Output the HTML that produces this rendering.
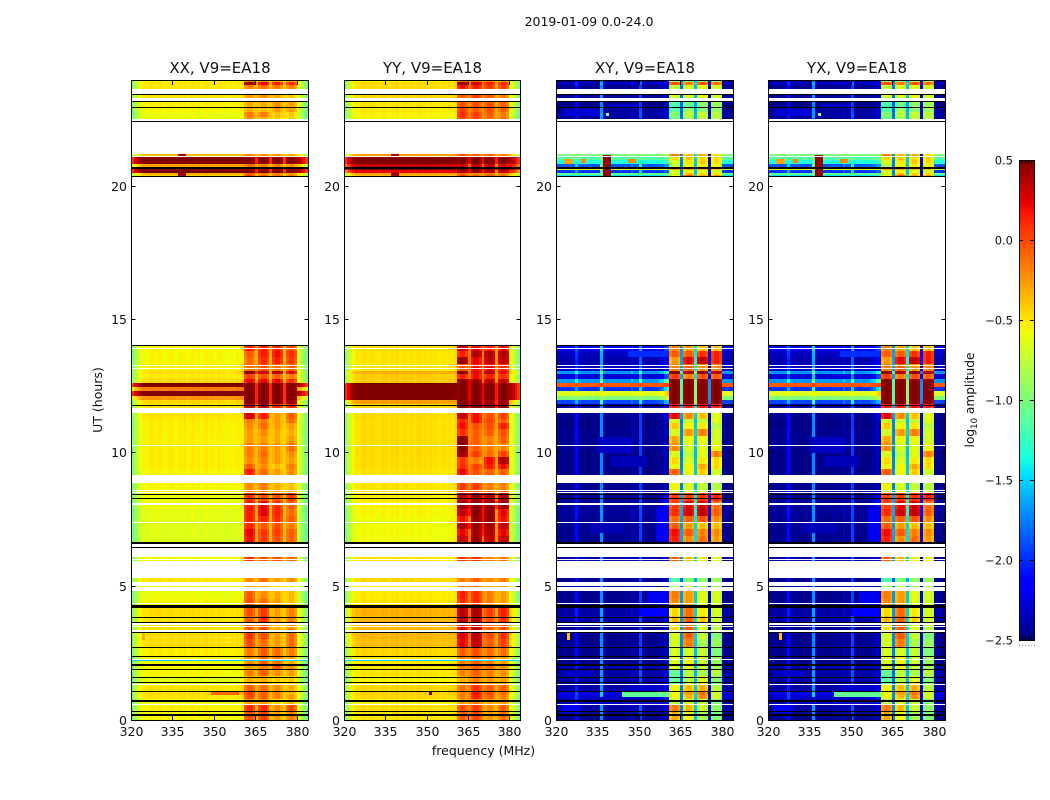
<!DOCTYPE html>
<html lang="en">
<head>
<meta charset="utf-8">
<title>2019-01-09 0.0-24.0</title>
<style>
html,body{margin:0;padding:0;background:#fff;width:1050px;height:800px;overflow:hidden}
svg{display:block}
text{font-family:"DejaVu Sans","Liberation Sans",sans-serif;fill:#111}
</style>
</head>
<body>
<svg id="chart" xmlns="http://www.w3.org/2000/svg" width="1050" height="800" viewBox="0 0 1050 800">
  <text x="589" y="26" font-size="12.5" text-anchor="middle">2019-01-09 0.0-24.0</text>
  <text x="483.5" y="755" font-size="12.5" text-anchor="middle">frequency (MHz)</text>
  <text transform="translate(102,400) rotate(-90)" font-size="12.5" text-anchor="middle">UT (hours)</text>
  <text transform="translate(974,400) rotate(-90)" font-size="12.2" text-anchor="middle">log<tspan font-size="8.5" dy="3">10</tspan><tspan dy="-3"> amplitude</tspan></text>
</svg>
<script>
// ---- categories and tick labels ----
const panelTitles = ["XX, V9=EA18", "YY, V9=EA18", "XY, V9=EA18", "YX, V9=EA18"];
const freqTicks = [320, 335, 350, 365, 380];
const hourTicks = [0, 5, 10, 15, 20];
const colorbarTicks = [0.5, 0.0, -0.5, -1.0, -1.5, -2.0, -2.5];
const freqStart = 320;
const channelCount = 64;

// ---- start hour of each time band (each ends at the next start, last ends at 24) ----
const rowStarts = [0,.3,.6,.8,.92,1.05,1.35,1.65,1.9,2.1,2.4,2.75,3.05,3.3,3.65,3.9,4.3,4.55,4.85,5.16,5.98,6.44,
6.65,6.9,7.15,7.4,7.65,7.9,8.2,8.5,8.64,
9.17,9.4,9.6,9.85,10.1,10.4,10.65,10.9,11.15,11.3,
11.69,11.85,12.0,12.16,12.35,12.47,12.63,12.79,12.98,13.1,13.35,13.6,13.85,
20.37,20.45,20.53,20.62,20.72,20.84,21.0,21.1,
22.43,22.6,22.8,23.0,23.33,23.68,23.8,23.92];

// ---- log10 amplitude per band: [continuum, near-band, block1, block2, block3, block4] ----
const xxLevels = [
[-.58,-.56,-.05,-.02,-.3,-.2],[-.56,-.54,.05,.05,-.25,-.05],[-.62,-.6,-.3,-.3,-.5,-.4],[-.52,-.42,-.05,-.1,-.2,-.3],
[-.5,-.25,0,-.1,-.2,-.35],[-.52,-.42,-.1,-.15,-.25,-.35],[-.65,-.62,-.35,-.35,-.45,-.45],[-.58,-.55,-.2,-.1,-.25,-.3],
[-.58,-.55,-.3,-.2,-.05,-.25],[-.6,-.56,-.25,-.1,-.15,-.35],[-.55,-.5,-.2,-.1,-.15,-.2],[-.5,-.48,-.05,-.15,-.3,-.15],
[-.5,-.48,.02,-.05,-.3,-.15],[-.52,-.5,-.1,-.05,-.35,-.25],[-.52,-.48,-.1,.05,-.3,-.2],[-.5,-.46,-.05,0,-.3,-.2],
[-.58,-.52,-.05,-.15,-.3,-.4],[-.62,-.58,-.1,-.25,-.35,-.4],[-.65,-.6,-.3,-.35,-.5,-.5],[-.52,-.48,-.25,-.15,-.3,-.25],
[-.58,-.5,.05,-.05,-.05,-.1],[-.6,-.55,.05,.05,-.2,-.15],
[-.66,-.62,.15,.0,-.05,-.1],[-.66,-.62,.2,.02,.0,-.1],[-.66,-.62,.08,-.1,-.05,-.2],[-.64,-.6,.1,.1,.05,-.1],
[-.64,-.6,.1,.22,.08,-.15],[-.62,-.58,.12,.2,.05,-.1],[-.62,-.58,.05,-.05,-.05,.0],[-.56,-.52,-.25,-.2,-.3,-.35],[-.58,-.54,-.25,-.2,-.35,-.4],
[-.58,-.54,.1,-.15,-.3,-.25],[-.55,-.52,-.1,-.25,-.4,-.2],[-.55,-.52,-.25,-.2,-.3,-.3],[-.55,-.52,-.2,-.15,-.3,-.25],
[-.55,-.52,-.2,-.2,-.3,-.15],[-.56,-.53,-.3,-.3,-.35,-.3],[-.56,-.53,-.3,-.25,-.35,-.35],[-.55,-.52,-.25,-.15,-.3,-.3],[-.55,-.5,-.2,-.2,-.3,-.15],[-.52,-.5,.25,.1,-.3,-.1],
[-.52,-.48,.3,.3,.1,.1],[-.48,-.36,.5,.5,.5,.4],[-.26,-.18,.5,.5,.5,.5],[.5,.4,.5,.5,.5,.5],[-.18,-.1,.5,.5,.5,.5],[.5,.45,.5,.5,.5,.5],
[-.48,-.36,.2,.2,.2,.05],[-.54,-.48,.0,-.05,-.1,-.2],[-.5,-.28,.45,.3,.35,.2],[-.56,-.52,-.15,-.05,-.15,-.1],[-.58,-.54,-.15,.05,.1,.0],
[-.58,-.54,-.1,.1,.15,.05],[-.56,-.52,.1,.1,.1,-.05],
[-.44,-.4,-.05,-.15,-.15,-.2],[-.38,-.36,-.1,-.2,-.2,-.25],[.5,.5,.5,.5,.5,.5],[.5,.5,.5,.5,.5,.5],[-.3,-.28,-.15,-.2,-.2,-.25],
[.5,.5,.5,.5,.5,.5],[.5,.5,.5,.5,.5,.5],[-.4,-.36,-.2,-.25,-.25,-.35],
[-.62,-.58,-.25,-.35,-.45,-.45],[-.62,-.58,-.2,-.2,-.4,-.45],[-.58,-.54,-.35,-.4,-.3,-.3],[-.56,-.52,-.35,-.35,-.25,-.3],
[-.52,-.48,-.3,-.25,-.35,-.45],[-.54,-.5,-.2,-.15,-.2,-.2],[-.52,-.48,.4,.2,.1,.05],[-.62,-.58,-.2,-.25,-.3,-.3]
];
const yyLevels = [
[-.52,-.5,-.1,-.02,-.3,-.15],[-.5,-.48,-.05,.0,-.25,-.1],[-.57,-.53,-.3,-.2,-.35,-.3],[-.48,-.44,-.2,.1,-.1,-.2],
[-.46,-.4,-.2,.15,-.05,-.15],[-.48,-.44,-.15,.05,-.1,-.1],[-.57,-.55,-.35,-.2,-.3,-.3],[-.52,-.5,-.2,-.1,-.2,-.25],
[-.52,-.5,-.2,-.1,-.15,-.25],[-.54,-.5,-.2,-.1,-.2,-.3],[-.48,-.44,-.1,-.05,-.15,-.15],[-.4,-.38,.2,.3,-.1,.0],
[-.37,-.35,.25,.32,-.05,.05],[-.38,-.36,.2,.3,-.1,-.05],[-.37,-.34,.3,.35,-.05,.05],[-.35,-.33,.33,.35,.0,.1],
[-.52,-.48,.05,.05,-.2,-.3],[-.54,-.5,.1,.05,-.2,-.3],[-.54,-.52,-.2,-.1,-.3,-.3],[-.48,-.44,-.2,-.1,-.25,-.2],
[-.52,-.48,.05,.05,-.2,-.15],[-.54,-.5,.25,.25,.1,.1],
[-.6,-.54,.3,.4,.3,.3],[-.6,-.54,.2,.38,.35,.2],[-.6,-.54,.35,.42,.4,.3],[-.6,-.54,.15,.42,.42,.15],
[-.58,-.52,.3,.45,.42,.2],[-.56,-.5,.4,.45,.42,.4],[-.54,-.5,.3,.42,.35,.35],[-.5,-.48,-.05,-.05,-.15,-.2],[-.52,-.48,.0,.0,-.2,-.2],
[-.52,-.49,.2,-.05,-.1,-.1],[-.5,-.48,.05,.0,.1,.15],[-.5,-.48,.02,-.2,.15,.35],[-.49,-.47,.4,.0,-.15,.0],
[-.49,-.47,.45,-.1,-.2,-.2],[-.5,-.48,.45,-.1,-.2,-.1],[-.5,-.48,.05,-.1,-.1,-.05],[-.5,-.47,.15,-.05,-.05,.1],[-.5,-.47,.1,.15,.0,-.1],[-.49,-.46,.3,.15,-.05,.0],
[-.48,-.44,.5,.5,.5,.45],[-.3,-.26,.5,.5,.4,.4],[.5,.45,.5,.5,.5,.5],[.5,.5,.5,.5,.5,.5],[.5,.5,.5,.5,.5,.5],[.5,.5,.5,.5,.5,.5],
[-.44,-.35,.5,.4,.3,.3],[-.44,-.4,.1,.15,.1,.05],[-.35,-.26,.5,.2,.35,.2],[-.52,-.48,-.05,.15,.2,.1],[-.52,-.49,.4,.2,.3,.3],
[-.52,-.49,.1,.35,.35,.35],[-.5,-.47,.3,.2,.1,.2],
[-.4,-.36,-.05,-.15,-.1,-.2],[-.3,-.26,-.1,-.2,-.15,-.2],[.2,.2,.4,.4,.35,.3],[.5,.5,.5,.5,.5,.5],[.3,.3,.3,.3,.3,.25],
[.5,.5,.5,.5,.5,.5],[.5,.5,.5,.5,.5,.5],[-.3,-.26,-.05,-.1,-.1,-.2],
[-.58,-.53,.0,.0,-.15,-.15],[-.56,-.52,.05,.0,-.1,-.2],[-.54,-.5,.0,-.1,-.05,-.1],[-.52,-.49,-.05,-.05,-.05,-.1],
[-.48,-.44,-.1,.0,-.1,-.2],[-.5,-.47,.15,.1,.0,.0],[-.48,-.44,.4,.25,.1,.05],[-.62,-.58,-.1,-.1,-.2,-.25]
];
const xyLevels = [
[-2.48,-2.4,-.35,-.6,-.85,-1],[-2.42,-2.35,-.2,-.4,-.75,-.95],[-2.4,-2.25,-.8,-.7,-.75,-1],[-2.3,-2,-.6,-.4,-.25,-.7],
[-2.25,-1.8,-.6,-.3,-.15,-.7],[-2.42,-2.1,-.6,-.4,-.35,-.8],[-2.42,-2.3,-1.1,-.8,-.65,-1],[-2.42,-2.35,-1.1,-.8,-.85,-.8],
[-2.42,-2.35,-.7,-.6,-.75,-.9],[-2.48,-2.4,-.7,-.6,-.75,-.9],[-2.48,-2.4,-.7,-.7,-.75,-1],[-2.48,-2.4,-.7,-.2,-.85,-.9],
[-2.48,-2.4,-.7,-.1,-.75,-1],[-2.48,-2.35,-.5,-.1,-.65,-.8],[-2.42,-2.3,-.4,-.1,-.45,-.7],[-2.42,-2.1,-.5,-.15,-.55,-.7],
[-2.48,-2.1,-.25,-.3,-.65,-.7],[-2.48,-2.2,-.2,-.3,-.65,-.7],[-2.5,-2.48,-.9,-.8,-.95,-.9],[-2.48,-2.4,-1.2,-1,-.95,-.9],
[-2.42,-2.35,-.1,-.4,-.55,-.6],[-2.48,-2.4,-.1,-.4,-.45,-.5],
[-2.48,-2.2,.1,-.25,-.15,-.3],[-2.48,-2.2,.15,-.1,-.2,-.25],[-2.48,-2.2,-.1,-.3,-.4,-.4],[-2.48,-2.2,-.15,-.1,-.05,-.25],
[-2.45,-2.1,.05,.25,.3,-.1],[-2.45,-2,0,.2,.25,-.15],[-2.48,-2.1,0,0,.05,.1],[-2.48,-2.4,-.8,-.7,-.75,-.8],[-2.48,-2.4,-.6,-.7,-.75,-.8],
[-2.5,-2.4,-.1,-.6,-.45,-.7],[-2.5,-2.4,-.6,-.6,-.35,-.5],[-2.5,-2.4,-.5,-.7,-.55,-.5],[-2.5,-2.4,-.7,-.8,-.65,-.2],
[-2.48,-2.35,-.25,-.7,-.65,-.6],[-2.48,-2.4,-.35,-.6,-.6,-.7],[-2.48,-2.4,-.7,-.3,-.2,-.7],[-2.5,-2.4,-.45,-.6,-.55,-.8],[-2.5,-2.35,-.7,-.75,-.75,-.65],[-2.48,-2.25,.2,-.25,-.4,-.65],
[-2.45,-2.2,.1,.1,.15,.1],[-1.95,-1.5,.45,.5,.45,.45],[-1,-.6,.5,.5,.5,.5],[-.65,-.3,.5,.5,.5,.5],[-2,-1.2,.5,.5,.5,.5],[-.05,.05,.5,.5,.5,.5],
[-1.7,-.9,.5,.5,.45,.45],[-2.3,-1.8,0,-.2,-.05,-.1],[-1.7,-1.2,.48,.35,.45,.35],[-2.35,-2.1,-.2,-.1,-.25,-.2],[-2.4,-2.1,-.3,.2,.3,.1],
[-2.35,-1.9,-.1,-.1,.05,.1],[-2.2,-1.9,-.2,-.3,-.4,-.4],
[-1.45,-1.3,-.6,-.1,-.35,-.3],[-1.1,-1.0,-.7,-.4,-.45,-.5],[-2,-1.9,-.7,-.6,-.65,-.7],[-.7,-.7,-.3,-.3,-.35,-.4],[-1.9,-1.7,-.8,-.6,-.55,-.6],
[-1.35,-1.2,-.7,-.55,-.45,-.5],[-1.15,-1.1,-.5,-.45,-.5,-.5],[-1.0,-.9,-.2,-.4,-.35,-.5],
[-2.48,-2.4,-1.1,-.9,-.75,-.8],[-2.42,-2.35,-1,-.8,-.75,-.8],[-2.45,-2.35,-1.15,-.9,-.95,-.9],[-2.5,-2.48,-1.2,-1.1,-.95,-.9],
[-2.45,-2.4,-.7,-.7,-.6,-.7],[-2.48,-2.4,-.8,-.7,-.65,-.7],[-2.35,-2.25,-.05,-.2,-.05,-.15],[-2.48,-2.4,-.9,-.9,-.85,-.9]
];
const yxLevels = xyLevels;

// ---- per-channel offsets added to the continuum of each polarisation ----
const parallelRipple = [-.42,-.26,-.13,-.06,.02,.0,.03,.05,.02,.03,.05,.02,.0,.03,.05,.03,.0,.04,.03,.05,.0,.03,.05,.01,.04,.0,.03,.05,.02,.03,.0,.04,.02,.02,.0,.0,.02,.0,.02,.0,.0,0,0,0,0,0,0,0,0,0,0,0,0,0,0,0,0,0,0,0,-.1,-.16,-.3,-.46];
const crossRipple = [.03,.03,.0,.05,.0,.03,.05,.38,.05,.02,.03,.0,.03,.02,.0,.03,.78,.06,.0,.03,.02,.03,.0,.05,.02,.03,.0,.18,.03,.02,.55,.03,.0,.03,.0,.03,.02,.05,.03,.14,.05,0,0,0,0,0,0,0,0,0,0,0,0,0,0,0,0,0,0,0,.04,.03,.02,.0];
const nearWeight = [0,0,0,.1,.25,.45,.75];
const blockRipple = [-.04,.05,.05,-.06];
const crossBlockRipple = [-.06,.05,.05,-.06];
const xxGapLevels = [-.38,-.4,-.44];
const yyGapLevels = [-.26,-.3,-.36];
const xyGapLevels = [-1.7,-1.5,-2.2];

// ---- missing data, flagged lines and isolated features (hours) ----
const missingHours = [[.57,.6],[1.31,1.36],[2.26,2.3],[3.29,3.36],[3.5,3.53],[3.58,3.62],[4.34,4.38],[4.83,4.98],[5.02,5.16],[5.34,5.98],[6.02,6.05],[6.13,6.44],[6.5,6.6],[7.37,7.41],[8.08,8.12],[8.5,8.54],[8.6,8.63],[8.89,9.17],[10.26,10.3],[11.5,11.69],[13.17,13.21],[13.27,13.31],[13.9,13.94],[14.06,20.37],[21.11,21.15],[21.23,22.43],[22.48,22.54],[23.19,23.33],[23.48,23.68]];
const flaggedHours = [.18,.32,.72,1.06,1.41,1.59,1.88,2.06,2.38,2.71,3.27,3.67,3.86,4.24,6.47,6.63,8.29,8.44,11.78,14.03,20.37,20.7,22.43,22.97,23.18,23.44];
const flaggedThickness = [.07,.07,.07,.04,.04,.04,.04,.07,.07,.04,.04,.04,.04,.11,.04,.07,.04,.04,.04,.04,.04,.04,.04,.04,.04,.04];
// faint patches shared by the cross-polarised panels: [start hour, end hour, first channel, last channel, value]
const crossPatches = [
[.25,.55,2,8,-2.2],[.55,.85,10,36,-2.32],[1.05,1.3,26,38,-2.3],[1.65,1.85,3,12,-2.3],[3.9,4.2,30,40,-2.15],[4.4,4.8,33,40,-2.2],
[6.7,8.0,36,40,-2.2],[7,7.4,12,24,-2.35],[10,10.6,15,26,-2.32],[9.5,9.9,20,32,-2.35],[13.6,13.85,26,40,-2.0],
[22.65,22.9,3,15,-2.28],[22.9,23.1,19,29,-2.3]
];
// [panel, start hour, end hour, first channel, last channel, value]
const spotFeatures = [
[0,.92,1.05,29,38,-.1],[1,.92,1.1,31,31,.5],[2,.85,1.08,24,40,-1.1],[3,.85,1.08,24,40,-1.1],
[0,20.37,20.5,17,19,.4],[0,21.15,21.23,17,19,.4],[1,20.37,20.55,17,19,.4],[1,21.1,21.23,17,19,.4],
[2,20.37,21.2,17,19,.45],[3,20.37,21.2,17,19,.45],
[2,20.85,21.05,3,5,-.3],[3,20.85,21.05,3,5,-.3],[2,20.9,21.05,9,10,-.2],[3,20.9,21.05,9,10,-.2],[2,20.9,21.05,26,28,-.2],[3,20.9,21.05,26,28,-.2],
[2,22.65,22.75,18,18,-.9],[3,22.65,22.75,18,18,-.9],
[0,2.2,2.24,0,63,-1.5],[1,2.2,2.24,0,63,-1.5],[0,3.0,3.4,4,4,-.3],[2,3.0,3.25,4,4,-.4],[3,3.0,3.25,4,4,-.4]
];

// ---- axis functions ----
const panelLefts = [131, 344, 556, 768];
const panelWidths = [177, 176, 177, 177];
const plotTop = 80;
const plotBottom = 720;
function xScale(panel, mhz) { return panelLefts[panel] + (mhz - freqStart) / channelCount * panelWidths[panel]; }
function yScale(hour) { return plotBottom - hour / 24 * (plotBottom - plotTop); }
function lerp(a, b, t) { return a + (b - a) * t; }
function jet(t) {
  t = Math.max(0, Math.min(1, t));
  const ramp = (pts) => {
    for (let i = 1; i < pts.length; i++) {
      if (t <= pts[i][0]) return lerp(pts[i-1][1], pts[i][1], (t - pts[i-1][0]) / (pts[i][0] - pts[i-1][0]));
    }
    return pts[pts.length-1][1];
  };
  const r = ramp([[0,0],[.35,0],[.66,1],[.89,1],[1,.5]]);
  const g = ramp([[0,0],[.125,0],[.375,1],[.64,1],[.91,0],[1,0]]);
  const b = ramp([[0,.5],[.11,1],[.34,1],[.65,0],[1,0]]);
  return `rgb(${Math.round(r*255)},${Math.round(g*255)},${Math.round(b*255)})`;
}
function colorFor(v) { return jet((v + 2.5) / 3); }

const svg = document.getElementById('chart');
const NS = 'http://www.w3.org/2000/svg';
function make(tag, attrs, parent) {
  const el = document.createElementNS(NS, tag);
  for (const k in attrs) el.setAttribute(k, attrs[k]);
  (parent || svg).appendChild(el);
  return el;
}

const blockStarts = [41, 46, 51, 56];
const gapChannels = [45, 50, 55];
function channelValue(panel, lv, ch) {
  const cross = panel >= 2;
  for (let k = 0; k < 4; k++) {
    if (ch >= blockStarts[k] && ch < blockStarts[k] + 4) {
      return lv[2 + k] + (cross ? crossBlockRipple : blockRipple)[ch - blockStarts[k]];
    }
  }
  const gi = gapChannels.indexOf(ch);
  if (gi >= 0) {
    const base = [xxGapLevels, yyGapLevels, xyGapLevels, xyGapLevels][panel][gi];
    const mean = (lv[2 + gi] + lv[3 + gi]) / 2;
    return base + (mean > .35 ? 0.65 : 0.2) * (mean + 0.3);
  }
  let rip = (cross ? crossRipple : parallelRipple)[ch];
  if (cross && lv[0] > -1.5) rip *= 0.15;
  if (ch >= 34 && ch <= 40) return lerp(lv[0], lv[1], nearWeight[ch - 34]) + rip;
  return lv[0] + rip;
}

const allLevels = [xxLevels, yyLevels, xyLevels, yxLevels];
for (let p = 0; p < 4; p++) {
  const group = make('g', {});
  group.setAttribute('shape-rendering', 'crispEdges');
  
  
  const levels = allLevels[p];
  for (let r = 0; r < rowStarts.length; r++) {
    const t0 = rowStarts[r];
    const t1 = r + 1 < rowStarts.length ? rowStarts[r + 1] : 24;
    const yT = Math.round(yScale(t1));
    const yB = Math.round(yScale(t0));
    for (let ch = 0; ch < channelCount; ch++) {
      const xL = Math.round(xScale(p, freqStart + ch));
      const xR = Math.round(xScale(p, freqStart + ch + 1));
      const cell = make('rect', {x: xL, y: yT, width: xR - xL, height: yB - yT, fill: colorFor(channelValue(p, levels[r], ch))}, group);
      
      
    }
  }
  if (p >= 2) {
    for (const s of crossPatches) {
      const xL = Math.round(xScale(p, freqStart + s[2]));
      const xR = Math.round(xScale(p, freqStart + s[3] + 1));
      const yT = Math.round(yScale(s[1]));
      const yB = Math.round(yScale(s[0]));
      const patch = make('rect', {x: xL, y: yT, width: xR - xL, height: Math.max(1, yB - yT), fill: colorFor(s[4])}, group);
      
      
    }
  }
  for (const s of spotFeatures) {
    if (s[0] !== p) continue;
    const xL = Math.round(xScale(p, freqStart + s[3]));
    const xR = Math.round(xScale(p, freqStart + s[4] + 1));
    const yT = Math.round(yScale(s[2]));
    const yB = Math.round(yScale(s[1]));
    const spot = make('rect', {x: xL, y: yT, width: xR - xL, height: Math.max(1, yB - yT), fill: colorFor(s[5])}, group);
    
    
  }
  for (const m of missingHours) {
    const yT = Math.round(yScale(m[1]));
    const yB = Math.round(yScale(m[0]));
    const gap = make('rect', {x: panelLefts[p], y: yT, width: panelWidths[p], height: Math.max(1, yB - yT), fill: '#fff'}, group);
    
    
  }
  flaggedHours.forEach((h, i) => {
    const th = flaggedThickness[i];
    const yT = Math.round(yScale(h + th / 2));
    const yB = Math.round(yScale(h - th / 2));
    const line = make('rect', {x: panelLefts[p], y: yT, width: panelWidths[p], height: Math.max(1, yB - yT), fill: '#000'}, group);
    
    
  });

  // frame
  const frame = make('rect', {x: panelLefts[p] + .5, y: plotTop + .5, width: panelWidths[p], height: plotBottom - plotTop, fill: 'none', stroke: '#000', 'stroke-width': 1});
  
  

  // title
  const title = make('text', {x: panelLefts[p] + panelWidths[p] / 2 + .5, y: 73, 'font-size': 15, 'text-anchor': 'middle'});
  
  
  title.textContent = panelTitles[p];

  // x ticks
  for (const f of freqTicks) {
    const x = Math.round(xScale(p, f)) + .5;
    const tb = make('line', {x1: x, x2: x, y1: plotBottom, y2: plotBottom - 4, stroke: '#000', 'stroke-width': 1});
    
    
    const tt = make('line', {x1: x, x2: x, y1: plotTop + 1, y2: plotTop + 5, stroke: '#000', 'stroke-width': 1});
    
    
    const lbl = make('text', {x: x, y: 736, 'font-size': 12.5, 'text-anchor': 'middle'});
    
    
    lbl.textContent = f;
  }
  // y ticks
  for (const h of hourTicks) {
    const y = Math.round(yScale(h)) + (h === 0 ? .5 : -.5);
    const l = panelLefts[p] + .5;
    const r = l + panelWidths[p];
    const tl = make('line', {x1: l, x2: l + 4, y1: y, y2: y, stroke: '#000', 'stroke-width': 1});
    
    
    const tr = make('line', {x1: r, x2: r - 4, y1: y, y2: y, stroke: '#000', 'stroke-width': 1});
    
    
    const lbl = make('text', {x: panelLefts[p] - 4, y: y + 4.5, 'font-size': 12.5, 'text-anchor': 'end'});
    
    
    lbl.textContent = h;
  }
}

// ---- colorbar ----
const cbLeft = 1019, cbRight = 1034, cbTop = 160, cbBottom = 640;
const cbScale = (v) => cbBottom - (v + 2.5) / 3 * (cbBottom - cbTop);
const cbGroup = make('g', {});
cbGroup.setAttribute('shape-rendering', 'crispEdges');


for (let y = cbTop; y < cbBottom; y += 2) {
  const v = -2.5 + (cbBottom - y - 1) / (cbBottom - cbTop) * 3;
  const seg = make('rect', {x: cbLeft, y: y, width: cbRight - cbLeft, height: 2, fill: colorFor(v)}, cbGroup);
  
  
}
const cbFrame = make('rect', {x: cbLeft + .5, y: cbTop + .5, width: cbRight - cbLeft, height: cbBottom - cbTop, fill: 'none', stroke: '#000', 'stroke-width': 1});


for (const v of colorbarTicks) {
  const y = Math.round(cbScale(v)) + .5;
  const a = make('line', {x1: cbLeft, x2: cbLeft + 4, y1: y, y2: y, stroke: '#000', 'stroke-width': 1});
  
  
  const b = make('line', {x1: cbRight, x2: cbRight - 4, y1: y, y2: y, stroke: '#000', 'stroke-width': 1});
  
  
  const lbl = make('text', {x: 1013, y: y + 4, 'font-size': 11.5, 'text-anchor': 'end'});
  
  
  lbl.textContent = (v < 0 ? '\u2212' : '') + Math.abs(v).toFixed(1);
}
for (let i = 0; i < 6; i++) {
  const x = cbLeft + .5 + i * 3;
  const t1 = make('line', {x1: x, x2: x, y1: cbTop, y2: cbTop + 4, stroke: '#000', 'stroke-width': 1});
  
  
  const t2 = make('line', {x1: x, x2: x, y1: cbBottom, y2: cbBottom - 4, stroke: '#000', 'stroke-width': 1});
  
  
  const d = make('rect', {x: x - .5, y: 645, width: 1, height: 1, fill: '#999'});
  
  
}
</script>
</body>
</html>
